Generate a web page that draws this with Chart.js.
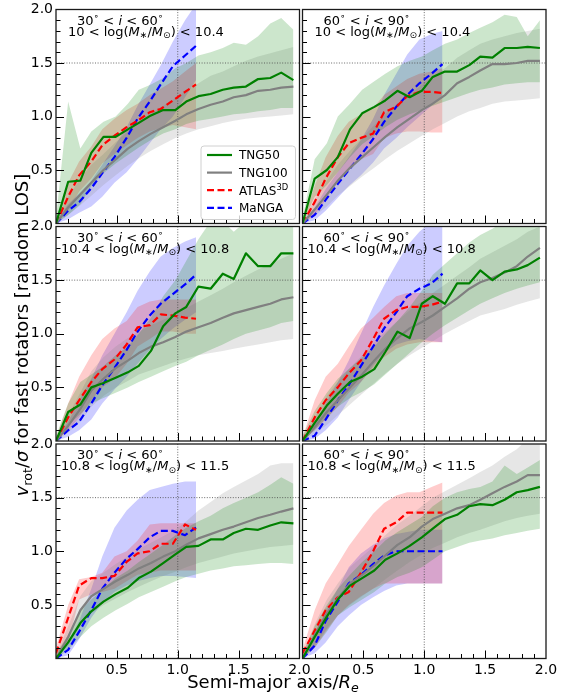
<!DOCTYPE html>
<html>
<head>
<meta charset="utf-8">
<script src="https://cdn.jsdelivr.net/npm/chart.js@4.4.1/dist/chart.umd.min.js"></script>
<style>
  html, body { margin: 0; padding: 0; background: #fff; }
  #fig { position: relative; width: 575px; height: 697px; }
  #fig canvas { position: absolute; left: 0; top: 0; }
</style>
</head>
<body>
<div id="fig"></div>
<script>
// radii (in units of R_e) where the profiles are sampled
const radiusTng = [0, 0.1, 0.2, 0.29, 0.39, 0.49, 0.59, 0.68, 0.78, 0.88, 0.98, 1.07, 1.17, 1.27, 1.37, 1.46, 1.56, 1.66, 1.76, 1.85, 1.95];
const radiusObs = [0, 0.1, 0.19, 0.29, 0.38, 0.48, 0.58, 0.67, 0.77, 0.86, 0.96, 1.06, 1.15];

// panels go row by row: [30-60 deg, 60-90 deg] for each mass bin
const inclinationBins = [['30', '60'], ['60', '90']];
const massBins = [['10', '10.4'], ['10.4', '10.8'], ['10.8', '11.5']];
const tickLabels = ['0.5', '1.0', '1.5', '2.0'];
const refRadius = 1.0;
const refRatio = 1.5;

// TNG50 median and 16-84 percentile band
const tng50Median = [
  [0, 0.39, 0.40, 0.66, 0.81, 0.81, 0.88, 0.94, 1.01, 1.06, 1.06, 1.14, 1.19, 1.21, 1.25, 1.27, 1.28, 1.35, 1.36, 1.41, 1.34],
  [0, 0.42, 0.50, 0.62, 0.88, 1.03, 1.09, 1.15, 1.24, 1.18, 1.24, 1.37, 1.42, 1.42, 1.48, 1.56, 1.55, 1.64, 1.64, 1.65, 1.64],
  [0, 0.27, 0.34, 0.50, 0.54, 0.59, 0.64, 0.70, 0.84, 1.07, 1.19, 1.25, 1.44, 1.42, 1.56, 1.51, 1.75, 1.63, 1.63, 1.75, 1.75],
  [0, 0.17, 0.33, 0.44, 0.55, 0.60, 0.67, 0.83, 1.02, 0.96, 1.28, 1.35, 1.28, 1.47, 1.47, 1.59, 1.50, 1.58, 1.60, 1.64, 1.71],
  [0, 0.15, 0.33, 0.44, 0.53, 0.60, 0.66, 0.75, 0.81, 0.89, 0.97, 1.04, 1.05, 1.11, 1.11, 1.17, 1.21, 1.20, 1.24, 1.27, 1.26],
  [0, 0.20, 0.39, 0.55, 0.68, 0.75, 0.82, 0.92, 0.98, 1.05, 1.13, 1.21, 1.30, 1.34, 1.42, 1.44, 1.43, 1.48, 1.55, 1.57, 1.60]
];
const tng50Low = [
  [0, 0.08, 0.18, 0.35, 0.47, 0.56, 0.64, 0.71, 0.78, 0.84, 0.88, 0.93, 0.96, 0.98, 1.00, 1.02, 1.03, 1.05, 1.06, 1.08, 1.08],
  [0, 0.25, 0.36, 0.48, 0.62, 0.74, 0.82, 0.90, 0.97, 1.02, 1.06, 1.10, 1.14, 1.18, 1.22, 1.25, 1.27, 1.30, 1.31, 1.32, 1.32],
  [0, 0.15, 0.25, 0.35, 0.40, 0.45, 0.50, 0.55, 0.60, 0.65, 0.70, 0.74, 0.80, 0.85, 0.90, 0.95, 1.00, 1.03, 1.06, 1.10, 1.12],
  [0, 0.10, 0.22, 0.32, 0.40, 0.46, 0.53, 0.62, 0.72, 0.82, 0.92, 1.00, 1.08, 1.15, 1.22, 1.28, 1.33, 1.38, 1.42, 1.45, 1.48],
  [0, 0.08, 0.20, 0.30, 0.38, 0.45, 0.51, 0.57, 0.62, 0.67, 0.72, 0.76, 0.79, 0.82, 0.84, 0.86, 0.87, 0.88, 0.89, 0.89, 0.88],
  [0, 0.10, 0.25, 0.40, 0.48, 0.55, 0.62, 0.70, 0.76, 0.80, 0.85, 0.92, 1.00, 1.04, 1.08, 1.10, 1.12, 1.15, 1.17, 1.19, 1.21]
];
const tng50High = [
  [0.05, 1.14, 0.70, 0.86, 0.95, 1.00, 1.12, 1.25, 1.30, 1.36, 1.45, 1.50, 1.57, 1.60, 1.64, 1.69, 1.67, 1.75, 1.87, 1.92, 1.81],
  [0.05, 0.60, 0.75, 1.00, 1.12, 1.25, 1.33, 1.40, 1.47, 1.52, 1.56, 1.62, 1.68, 1.72, 1.78, 1.83, 1.88, 1.95, 1.93, 1.75, 1.90],
  [0.05, 0.35, 0.55, 0.62, 0.70, 0.80, 0.88, 1.00, 1.15, 1.35, 1.50, 1.68, 1.88, 2.05, 2.05, 1.95, 2.05, 2.05, 2.05, 2.05, 2.05],
  [0.05, 0.28, 0.45, 0.58, 0.68, 0.78, 0.88, 1.00, 1.12, 1.25, 1.40, 1.55, 1.65, 1.75, 1.85, 1.92, 1.98, 2.05, 2.05, 2.05, 2.05],
  [0.05, 0.22, 0.45, 0.55, 0.65, 0.75, 0.82, 0.90, 0.98, 1.06, 1.15, 1.22, 1.28, 1.33, 1.40, 1.45, 1.50, 1.55, 1.62, 1.69, 1.63],
  [0.05, 0.30, 0.50, 0.65, 0.78, 0.90, 1.00, 1.10, 1.18, 1.25, 1.32, 1.42, 1.50, 1.55, 1.58, 1.60, 1.65, 1.80, 1.72, 1.78, 1.85]
];

// TNG100 median and band
const tng100Median = [
  [0, 0.15, 0.27, 0.38, 0.50, 0.60, 0.70, 0.77, 0.84, 0.90, 0.96, 1.02, 1.07, 1.11, 1.14, 1.18, 1.20, 1.24, 1.25, 1.27, 1.28],
  [0, 0.13, 0.27, 0.40, 0.52, 0.62, 0.72, 0.81, 0.90, 0.98, 1.06, 1.12, 1.20, 1.31, 1.37, 1.43, 1.49, 1.49, 1.50, 1.52, 1.52],
  [0, 0.14, 0.30, 0.47, 0.58, 0.68, 0.75, 0.82, 0.88, 0.92, 0.97, 1.02, 1.06, 1.10, 1.15, 1.19, 1.22, 1.25, 1.28, 1.32, 1.34],
  [0, 0.13, 0.27, 0.38, 0.50, 0.62, 0.75, 0.86, 0.96, 1.05, 1.11, 1.17, 1.25, 1.33, 1.42, 1.48, 1.52, 1.57, 1.63, 1.72, 1.80],
  [0, 0.20, 0.45, 0.58, 0.65, 0.72, 0.78, 0.84, 0.89, 0.95, 1.00, 1.06, 1.12, 1.16, 1.20, 1.23, 1.27, 1.31, 1.34, 1.37, 1.40],
  [0, 0.22, 0.42, 0.56, 0.70, 0.78, 0.87, 0.96, 1.06, 1.13, 1.23, 1.30, 1.35, 1.40, 1.43, 1.48, 1.54, 1.60, 1.65, 1.71, 1.71]
];
const tng100Low = [
  [0, 0.08, 0.17, 0.26, 0.36, 0.45, 0.54, 0.61, 0.68, 0.74, 0.80, 0.84, 0.88, 0.91, 0.94, 0.96, 0.98, 0.99, 1.00, 1.01, 1.02],
  [0, 0.07, 0.16, 0.26, 0.35, 0.44, 0.52, 0.60, 0.68, 0.75, 0.82, 0.88, 0.94, 1.00, 1.05, 1.08, 1.12, 1.14, 1.15, 1.16, 1.17],
  [0, 0.08, 0.18, 0.32, 0.42, 0.50, 0.56, 0.62, 0.66, 0.70, 0.74, 0.77, 0.80, 0.82, 0.84, 0.86, 0.88, 0.90, 0.92, 0.94, 0.95],
  [0, 0.07, 0.15, 0.24, 0.34, 0.44, 0.54, 0.63, 0.72, 0.80, 0.87, 0.93, 1.00, 1.06, 1.12, 1.17, 1.20, 1.23, 1.27, 1.30, 1.33],
  [0, 0.12, 0.30, 0.42, 0.50, 0.56, 0.62, 0.67, 0.72, 0.77, 0.81, 0.85, 0.89, 0.92, 0.95, 0.98, 1.00, 1.02, 1.04, 1.05, 1.06],
  [0, 0.12, 0.28, 0.40, 0.50, 0.58, 0.66, 0.74, 0.82, 0.90, 0.97, 1.03, 1.08, 1.13, 1.17, 1.20, 1.24, 1.28, 1.31, 1.33, 1.35]
];
const tng100High = [
  [0.03, 0.25, 0.42, 0.55, 0.65, 0.76, 0.86, 0.95, 1.03, 1.10, 1.17, 1.24, 1.31, 1.38, 1.42, 1.47, 1.52, 1.56, 1.59, 1.62, 1.65],
  [0.03, 0.22, 0.40, 0.55, 0.68, 0.80, 0.92, 1.02, 1.12, 1.20, 1.30, 1.38, 1.45, 1.55, 1.62, 1.68, 1.72, 1.75, 1.78, 1.80, 1.82],
  [0.03, 0.24, 0.45, 0.65, 0.78, 0.88, 0.96, 1.02, 1.08, 1.13, 1.18, 1.24, 1.30, 1.36, 1.42, 1.48, 1.54, 1.60, 1.65, 1.70, 1.75],
  [0.03, 0.22, 0.42, 0.55, 0.68, 0.80, 0.92, 1.02, 1.12, 1.22, 1.30, 1.38, 1.46, 1.54, 1.62, 1.70, 1.76, 1.82, 1.88, 1.95, 2.00],
  [0.03, 0.30, 0.58, 0.72, 0.80, 0.88, 0.95, 1.02, 1.08, 1.14, 1.20, 1.28, 1.38, 1.46, 1.54, 1.60, 1.66, 1.72, 1.80, 1.82, 1.82],
  [0.03, 0.32, 0.55, 0.70, 0.85, 0.95, 1.05, 1.15, 1.25, 1.33, 1.42, 1.50, 1.56, 1.62, 1.68, 1.74, 1.80, 1.88, 1.95, 2.05, 2.05]
];

// ATLAS3D median and band
const atlasMedian = [
  [0, 0.25, 0.45, 0.58, 0.73, 0.82, 0.90, 0.96, 1.04, 1.07, 1.15, 1.23, 1.30],
  [0, 0.20, 0.42, 0.62, 0.75, 0.80, 0.84, 1.04, 1.09, 1.19, 1.23, 1.23, 1.22],
  [0, 0.22, 0.38, 0.55, 0.67, 0.76, 0.90, 1.06, 1.08, 1.18, 1.17, 1.15, 1.14],
  [0, 0.22, 0.38, 0.50, 0.63, 0.75, 0.95, 1.14, 1.22, 1.25, 1.25, 1.27, 1.30],
  [0.05, 0.38, 0.68, 0.75, 0.75, 0.77, 0.90, 0.98, 1.00, 1.07, 1.07, 1.25, 1.20],
  [0.05, 0.26, 0.45, 0.57, 0.62, 0.80, 1.00, 1.21, 1.27, 1.36, 1.36, 1.36, 1.36]
];
const atlasLow = [
  [0, 0.12, 0.30, 0.42, 0.56, 0.65, 0.73, 0.80, 0.86, 0.89, 0.92, 0.90, 0.88],
  [0, 0.08, 0.22, 0.40, 0.52, 0.60, 0.65, 0.80, 0.84, 0.86, 0.86, 0.85, 0.85],
  [0, 0.10, 0.22, 0.38, 0.50, 0.58, 0.72, 0.88, 0.95, 1.02, 1.02, 1.00, 1.00],
  [0, 0.10, 0.20, 0.32, 0.45, 0.55, 0.68, 0.78, 0.86, 0.90, 0.92, 0.92, 0.92],
  [0, 0.15, 0.55, 0.60, 0.62, 0.65, 0.72, 0.78, 0.80, 0.82, 0.82, 0.82, 0.82],
  [0, 0.10, 0.25, 0.40, 0.50, 0.58, 0.65, 0.70, 0.70, 0.70, 0.70, 0.70, 0.70]
];
const atlasHigh = [
  [0.03, 0.38, 0.58, 0.72, 0.88, 0.98, 1.06, 1.12, 1.20, 1.26, 1.33, 1.42, 1.50],
  [0.03, 0.35, 0.62, 0.82, 0.95, 1.02, 1.08, 1.20, 1.28, 1.35, 1.40, 1.42, 1.45],
  [0.03, 0.35, 0.60, 0.80, 0.95, 1.05, 1.12, 1.25, 1.30, 1.32, 1.32, 1.32, 1.32],
  [0.03, 0.38, 0.60, 0.72, 0.88, 1.05, 1.15, 1.25, 1.35, 1.38, 1.38, 1.38, 1.38],
  [0.10, 0.50, 0.74, 0.76, 0.80, 0.95, 1.00, 1.10, 1.25, 1.26, 1.26, 1.26, 1.26],
  [0.08, 0.45, 0.70, 0.88, 1.05, 1.20, 1.35, 1.45, 1.52, 1.55, 1.55, 1.60, 1.64]
];

// MaNGA median and band
const mangaMedian = [
  [0, 0.12, 0.20, 0.33, 0.47, 0.62, 0.80, 0.98, 1.14, 1.30, 1.47, 1.57, 1.66],
  [0, 0.08, 0.22, 0.37, 0.50, 0.64, 0.79, 0.95, 1.09, 1.20, 1.31, 1.40, 1.49],
  [0, 0.10, 0.18, 0.35, 0.52, 0.68, 0.85, 1.02, 1.17, 1.28, 1.37, 1.46, 1.55],
  [0, 0.05, 0.20, 0.38, 0.52, 0.70, 0.88, 1.05, 1.20, 1.35, 1.42, 1.47, 1.56],
  [0, 0.08, 0.25, 0.45, 0.65, 0.80, 0.93, 1.02, 1.13, 1.19, 1.19, 1.15, 1.22],
  [0, 0.12, 0.35, 0.53, 0.70, 0.78, 0.88, 0.96, 1.00, 1.00, 1.00, 1.00, 1.00]
];
const mangaLow = [
  [0, 0.04, 0.10, 0.16, 0.25, 0.38, 0.48, 0.60, 0.75, 0.88, 1.00, 1.18, 1.34],
  [0, 0.03, 0.12, 0.24, 0.35, 0.45, 0.57, 0.70, 0.80, 0.90, 1.00, 1.10, 1.20],
  [0, 0.04, 0.10, 0.20, 0.35, 0.48, 0.60, 0.72, 0.85, 0.95, 1.05, 1.13, 1.20],
  [0, 0.02, 0.10, 0.22, 0.38, 0.55, 0.70, 0.82, 0.90, 0.93, 0.95, 0.93, 0.92],
  [0, 0.03, 0.18, 0.38, 0.52, 0.62, 0.68, 0.72, 0.75, 0.77, 0.77, 0.76, 0.75],
  [0, 0.05, 0.15, 0.30, 0.40, 0.50, 0.57, 0.63, 0.68, 0.70, 0.70, 0.70, 0.70]
];
const mangaHigh = [
  [0.02, 0.18, 0.28, 0.40, 0.55, 0.72, 0.90, 1.10, 1.30, 1.48, 1.70, 1.90, 2.05],
  [0.02, 0.15, 0.32, 0.48, 0.62, 0.78, 0.98, 1.20, 1.40, 1.58, 1.72, 1.77, 1.80],
  [0.02, 0.18, 0.38, 0.58, 0.80, 1.00, 1.20, 1.40, 1.58, 1.72, 1.80, 1.86, 1.90],
  [0.02, 0.15, 0.35, 0.55, 0.75, 1.00, 1.25, 1.45, 1.65, 1.82, 1.95, 2.05, 2.05],
  [0.02, 0.15, 0.35, 0.65, 0.95, 1.22, 1.38, 1.48, 1.57, 1.60, 1.63, 1.65, 1.65],
  [0.02, 0.20, 0.45, 0.65, 0.85, 0.98, 1.06, 1.12, 1.16, 1.18, 1.20, 1.20, 1.20]
];

const FONT = '"DejaVu Sans", sans-serif';
const W = 575, H = 697;
const colEdges = [[56, 299.5], [302.5, 546]];
const rowEdges = [[9.5, 223.5], [226.5, 441], [444, 658.5]];

const series = [
  { name: 'TNG50', xs: radiusTng, mid: tng50Median, lo: tng50Low, hi: tng50High, color: '#008000', band: 'rgba(0,128,0,0.2)', dash: [] },
  { name: 'TNG100', xs: radiusTng, mid: tng100Median, lo: tng100Low, hi: tng100High, color: '#808080', band: 'rgba(128,128,128,0.2)', dash: [] },
  { name: 'ATLAS', sup: '3D', xs: radiusObs, mid: atlasMedian, lo: atlasLow, hi: atlasHigh, color: '#ff0000', band: 'rgba(255,0,0,0.2)', dash: [7, 3.5] },
  { name: 'MaNGA', xs: radiusObs, mid: mangaMedian, lo: mangaLow, hi: mangaHigh, color: '#0000ff', band: 'rgba(0,0,255,0.2)', dash: [7, 3.5] }
];

// draws a run of text pieces (italic / sub / superscript) starting at x
function richText(ctx, segs, x, y, size, align) {
  const parts = segs.map(s => {
    const sz = (s.sub || s.sup) ? size * 0.7 : size;
    const font = (s.it ? 'italic ' : '') + sz + 'px ' + FONT;
    ctx.font = font;
    return { t: s.t, font, w: ctx.measureText(s.t).width, dy: s.sub ? size * 0.22 : (s.sup ? -size * 0.4 : 0) };
  });
  const total = parts.reduce((a, q) => a + q.w, 0);
  let cx = align === 'center' ? x - total / 2 : x;
  ctx.textAlign = 'left';
  ctx.textBaseline = 'alphabetic';
  for (const q of parts) {
    ctx.font = q.font;
    ctx.fillText(q.t, cx, y + q.dy);
    cx += q.w;
  }
}

const pts = (xs, ys) => xs.map((x, i) => ({ x, y: ys[i] }));

function panelDecor(p, row, col) {
  return {
    id: 'panelDecor',
    beforeDatasetsDraw(chart) {
      const { ctx, chartArea: a, scales: { x, y } } = chart;
      const gx = x.getPixelForValue(refRadius), gy = y.getPixelForValue(refRatio);
      ctx.save();
      ctx.strokeStyle = '#444';
      ctx.lineWidth = 0.8;
      ctx.setLineDash([1, 1.6]);
      ctx.beginPath();
      ctx.moveTo(gx, a.top); ctx.lineTo(gx, a.bottom);
      ctx.moveTo(a.left, gy); ctx.lineTo(a.right, gy);
      ctx.stroke();
      ctx.restore();
    },
    afterDatasetsDraw(chart) {
      const { ctx, chartArea: a, scales: { x, y } } = chart;
      ctx.save();
      // inward ticks on left and bottom edges
      ctx.strokeStyle = '#000';
      ctx.lineWidth = 1;
      ctx.beginPath();
      for (let k = 1; k < 20; k++) {
        const len = k % 5 === 0 ? 8 : 4.5;
        const py = Math.round(y.getPixelForValue(k / 10)) + 0.5;
        ctx.moveTo(a.left, py); ctx.lineTo(a.left + len, py);
        const px = Math.round(x.getPixelForValue(k / 10)) + 0.5;
        ctx.moveTo(px, a.bottom); ctx.lineTo(px, a.bottom - len);
      }
      ctx.stroke();
      // frame
      ctx.strokeStyle = '#1a1a1a';
      ctx.lineWidth = 1.3;
      ctx.strokeRect(a.left, a.top, a.right - a.left, a.bottom - a.top);

      // bin annotation
      ctx.fillStyle = '#000';
      const inc = inclinationBins[col], mass = massBins[row];
      richText(ctx, [
        { t: inc[0] }, { t: '∘', sup: true }, { t: ' < ' }, { t: 'i', it: true }, { t: ' < ' + inc[1] }, { t: '∘', sup: true }
      ], a.left + 21, a.top + 15, 13);
      richText(ctx, [
        { t: mass[0] + ' < log(' }, { t: 'M', it: true }, { t: '∗', sub: true }, { t: '/' }, { t: 'M', it: true },
        { t: '⊙', sub: true }, { t: ') < ' + mass[1] }
      ], a.left + (row === 0 ? 12 : 5), a.top + 26, 13);

      if (p === 0) {
        // legend box, lower right of the first panel
        const bx = a.right - 98.5, by = a.bottom - 77.5, bw = 94.5, bh = 73.5;
        ctx.fillStyle = 'rgba(255,255,255,0.8)';
        ctx.strokeStyle = '#d0d0d0';
        ctx.lineWidth = 1;
        ctx.beginPath();
        ctx.roundRect(bx, by, bw, bh, 3);
        ctx.fill();
        ctx.stroke();
        series.forEach((s, i) => {
          const cy = by + 9 + i * 17.6;
          ctx.strokeStyle = s.color;
          ctx.lineWidth = 2.2;
          ctx.setLineDash(s.dash);
          ctx.beginPath();
          ctx.moveTo(bx + 6, cy); ctx.lineTo(bx + 31, cy);
          ctx.stroke();
          ctx.setLineDash([]);
          ctx.fillStyle = '#000';
          const segs = [{ t: s.name }];
          if (s.sup) segs.push({ t: s.sup, sup: true });
          richText(ctx, segs, bx + 38, cy + 4.3, 12);
        });
      }

      if (p === 4) {
        // shared axis titles
        ctx.fillStyle = '#000';
        richText(ctx, [
          { t: 'Semi-major axis/' }, { t: 'R', it: true }, { t: 'e', it: true, sub: true }
        ], 273, 688, 18, 'center');
        ctx.translate(28, 335);
        ctx.rotate(-Math.PI / 2);
        richText(ctx, [
          { t: 'v', it: true }, { t: 'rot', sub: true }, { t: '/' }, { t: 'σ', it: true },
          { t: ' for fast rotators [random LOS]' }
        ], 0, 0, 18, 'center');
      }
      ctx.restore();
    }
  };
}

const fig = document.getElementById('fig');

for (let p = 0; p < 6; p++) {
  const row = Math.floor(p / 2), col = p % 2;
  const [x0, x1] = colEdges[col];
  const [y0, y1] = rowEdges[row];
  const yw = col === 0 ? 40 : 0;
  const xh = row === 2 ? 24 : 0;

  const canvas = document.createElement('canvas');
  canvas.width = W;
  canvas.height = H;
  fig.appendChild(canvas);

  const datasets = [];
  series.forEach(s => datasets.push({
    data: pts(s.xs, s.mid[p]),
    borderColor: s.color,
    borderWidth: 2.2,
    borderDash: s.dash,
    borderJoinStyle: 'round',
    pointRadius: 0,
    tension: 0,
    fill: false
  }));
  series.forEach(s => {
    datasets.push({ data: pts(s.xs, s.lo[p]), borderWidth: 0, borderColor: 'transparent', pointRadius: 0, fill: false });
    datasets.push({ data: pts(s.xs, s.hi[p]), borderWidth: 0, borderColor: 'transparent', pointRadius: 0, fill: '-1', backgroundColor: s.band });
  });

  const tickFont = { family: FONT, size: 14 };
  const label = v => tickLabels.find(t => Math.abs(parseFloat(t) - v) < 1e-6) || '';

  new Chart(canvas, {
    type: 'line',
    data: { datasets },
    options: {
      responsive: false,
      animation: false,
      events: [],
      layout: { padding: { left: x0 - yw, right: W - x1, top: y0, bottom: H - y1 - xh } },
      scales: {
        x: {
          type: 'linear', min: 0, max: 2,
          grid: { display: false, drawTicks: false },
          border: { display: false },
          ticks: { display: row === 2, stepSize: 0.5, padding: 3, color: '#000', font: tickFont, maxRotation: 0, autoSkip: false, callback: label },
          afterFit: s => { s.height = xh; s.paddingLeft = 0; s.paddingRight = 0; }
        },
        y: {
          min: 0, max: 2,
          grid: { display: false, drawTicks: false },
          border: { display: false },
          ticks: { display: col === 0, stepSize: 0.5, padding: 3, color: '#000', font: tickFont, autoSkip: false, callback: label },
          afterFit: s => { s.width = yw; s.paddingTop = 0; s.paddingBottom = 0; }
        }
      },
      plugins: {
        legend: { display: false },
        tooltip: { enabled: false },
        filler: { drawTime: 'beforeDatasetsDraw' }
      }
    },
    plugins: [panelDecor(p, row, col)]
  });
}
</script>
</body>
</html>
